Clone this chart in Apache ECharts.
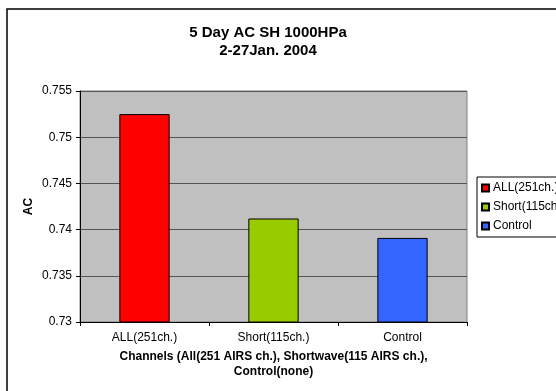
<!DOCTYPE html>
<html>
<head>
<meta charset="utf-8">
<script src="https://cdn.jsdelivr.net/npm/echarts@6/dist/echarts.min.js"></script>
<style>
  html, body { margin: 0; padding: 0; background: #fff; }
  #chart { width: 556px; height: 391px; }
</style>
</head>
<body>
<div id="chart"></div>
<script>
// Anomaly correlation, 5-day forecast, SH 1000 hPa specific humidity
const categories = ['ALL(251ch.)', 'Short(115ch.)', 'Control'];
const legendNames = ['ALL(251ch.)', 'Short(115ch.)', 'Control'];
const acValues = [0.7525, 0.7412, 0.7391];
const barColors = ['#FF0000', '#99CC00', '#3366FF'];
const yTicks = ['0.73', '0.735', '0.74', '0.745', '0.75', '0.755'];

const FONT = 'Liberation Sans, Arial, sans-serif';

// One series per channel set so each bar gets its own legend entry;
// all share the same slot via barGap -100%.
const series = categories.map((c, i) => ({
  name: legendNames[i],
  type: 'bar',
  barWidth: '39%',
  barGap: '-100%',
  data: categories.map((_, j) => (j === i ? acValues[i] : '-')),
  itemStyle: { color: barColors[i], borderColor: '#000', borderWidth: 1 }
}));

const chart = echarts.init(document.getElementById('chart'), null, { renderer: 'canvas' });
chart.setOption({
  animation: false,
  backgroundColor: '#fff',
  textStyle: { fontFamily: FONT },
  title: {
    text: '5 Day AC SH 1000HPa\n2-27Jan. 2004',
    left: 263,
    top: 19,
    textAlign: 'center',
    textStyle: { fontFamily: FONT, fontSize: 15, fontWeight: 'bold', color: '#000', lineHeight: 18 }
  },
  legend: {
    orient: 'vertical',
    left: 477,
    top: 177,
    padding: [4, 8, 4, 4],
    itemWidth: 7,
    itemHeight: 7,
    itemGap: 5,
    backgroundColor: '#fff',
    borderColor: '#000',
    borderWidth: 1,
    borderRadius: 0,
    icon: 'rect',
    textStyle: { fontFamily: FONT, fontSize: 12, color: '#000', lineHeight: 14, padding: [0, 0, 0, -1] },
    data: legendNames
  },
  grid: {
    left: 80, right: 89, top: 91, bottom: 69,
    show: true,
    backgroundColor: '#C0C0C0',
    borderColor: '#808080',
    borderWidth: 1
  },
  xAxis: {
    type: 'category',
    data: categories,
    name: 'Channels (All(251 AIRS ch.), Shortwave(115 AIRS ch.),\nControl(none)',
    nameLocation: 'middle',
    nameGap: 27,
    nameMoveOverlap: false,
    nameTextStyle: { fontFamily: FONT, fontSize: 12, fontWeight: 'bold', color: '#000', lineHeight: 15, verticalAlign: 'top' },
    axisLine: { lineStyle: { color: '#000', width: 1 } },
    axisTick: { show: true, length: 4, lineStyle: { color: '#000' } },
    axisLabel: { fontFamily: FONT, fontSize: 12, color: '#000', margin: 10 }
  },
  yAxis: {
    type: 'value',
    min: 0.73,
    max: 0.755,
    interval: 0.005,
    name: 'AC',
    nameLocation: 'middle',
    nameGap: 45,
    nameMoveOverlap: false,
    nameTextStyle: { fontFamily: FONT, fontSize: 12, fontWeight: 'bold', color: '#000' },
    axisLine: { show: true, lineStyle: { color: '#000', width: 1 } },
    axisTick: { show: true, length: 4, lineStyle: { color: '#000' } },
    axisLabel: {
      fontFamily: FONT, fontSize: 12, color: '#000', margin: 8,
      formatter: v => {
        const s = String(+v.toFixed(3));
        return yTicks.includes(s) ? s : '';
      }
    },
    splitLine: { show: true, lineStyle: { color: '#555', width: 1 } }
  },
  series: series,
  graphic: [{
    type: 'rect',
    silent: true,
    z: 100,
    shape: { x: 7, y: 9, width: 620, height: 420 },
    style: { fill: 'none', stroke: '#000', lineWidth: 1.5 }
  }]
});
</script>
</body>
</html>
